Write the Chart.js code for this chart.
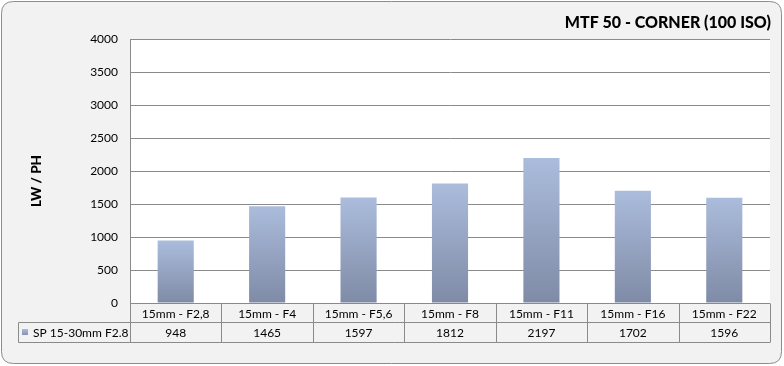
<!DOCTYPE html>
<html><head><meta charset="utf-8">
<script src="https://cdn.jsdelivr.net/npm/chart.js@4.4.0/dist/chart.umd.min.js"></script>
<style>html,body{margin:0;padding:0;background:#fff}#wrap{width:784px;height:366px;position:relative}</style>
</head><body><div id="wrap"><canvas id="c" width="784" height="366"></canvas></div>
<script>
const categories = ["15mm - F2,8","15mm - F4","15mm - F5,6","15mm - F8","15mm - F11","15mm - F16","15mm - F22"];
const seriesName = "SP 15-30mm F2.8";
const values = [948,1465,1597,1812,2197,1702,1596];
const yMax = 4000, yStep = 500;
const titleText = "MTF 50 - CORNER (100 ISO)";
const yTitle = "LW / PH";

const FONT = "Lato, 'Open Sans', sans-serif";
const LINE = "#8a8a8a";

const frame = {
  id: 'frame',
  beforeDraw(chart) {
    const ctx = chart.ctx;
    ctx.save();
    ctx.fillStyle = '#fff';
    ctx.fillRect(0,0,chart.width,chart.height);
    const x=1.5,y=1.5,w=780,h=362,r=12;
    ctx.beginPath();
    ctx.moveTo(x+r,y);ctx.lineTo(x+w-r,y);ctx.quadraticCurveTo(x+w,y,x+w,y+r);
    ctx.lineTo(x+w,y+h-r);ctx.quadraticCurveTo(x+w,y+h,x+w-r,y+h);
    ctx.lineTo(x+r,y+h);ctx.quadraticCurveTo(x,y+h,x,y+h-r);
    ctx.lineTo(x,y+r);ctx.quadraticCurveTo(x,y,x+r,y);ctx.closePath();
    ctx.fillStyle='#f2f2f2';ctx.fill();
    ctx.strokeStyle='#8c8c8c';ctx.lineWidth=1;ctx.stroke();
    const a = chart.chartArea;
    ctx.fillStyle='#fff';
    ctx.fillRect(a.left,a.top,a.right-a.left,a.bottom-a.top);
    ctx.restore();
  },
  afterDraw(chart) {
    const ctx = chart.ctx, a = chart.chartArea, xs = chart.scales.x;
    ctx.save();
    // title
    ctx.fillStyle='#000';
    ctx.font = "900 16px " + FONT;
    ctx.textAlign='right';ctx.textBaseline='middle';
    ctx.fillText(titleText, 771, 23);
    // y title
    ctx.save();
    ctx.translate(37, 181);
    ctx.rotate(-Math.PI/2);
    ctx.textAlign='center';ctx.textBaseline='middle';
    ctx.font = "900 13.5px " + FONT;
    ctx.fillText(yTitle,0,0);
    ctx.restore();
    // table
    const n = categories.length;
    const cw = (a.right-a.left)/n;
    const r0 = Math.round(a.bottom)+0.5, r1 = r0+19, r2 = r1+20;
    const left = 18.5;
    ctx.strokeStyle=LINE;ctx.lineWidth=1;
    ctx.beginPath();
    ctx.moveTo(a.left,r0);ctx.lineTo(a.right,r0);
    ctx.moveTo(left,r1);ctx.lineTo(a.right,r1);
    ctx.moveTo(left,r2);ctx.lineTo(a.right,r2);
    ctx.moveTo(left,r1);ctx.lineTo(left,r2);
    for(let i=0;i<=n;i++){
      const xx = Math.round(a.left+i*cw)+0.5;
      ctx.moveTo(xx,r0);ctx.lineTo(xx,r2);
    }
    ctx.stroke();
    ctx.fillStyle='#000';
    ctx.font = "12px " + FONT;
    ctx.textAlign='center';ctx.textBaseline='middle';
    for(let i=0;i<n;i++){
      const cx = xs.getPixelForValue(i);
      ctx.fillText(categories[i], cx, (r0+r1)/2+1);
      ctx.fillText(String(values[i]), cx, (r1+r2)/2+1);
    }
    // legend key
    const g = ctx.createLinearGradient(0,r1+7,0,r1+13);
    g.addColorStop(0,'#a9b9d8');g.addColorStop(1,'#8490aa');
    ctx.fillStyle=g;ctx.fillRect(22,r1+6.5,6,6);
    ctx.fillStyle='#000';ctx.textAlign='left';
    ctx.fillText(seriesName, 33, (r1+r2)/2+1);
    ctx.restore();
  }
};

new Chart(document.getElementById('c'), {
  type:'bar',
  data:{labels:categories,datasets:[{label:seriesName,data:values,
    backgroundColor(ctx){
      const ch = ctx.chart; const a = ch.chartArea;
      if(!a) return '#97a7c6';
      const v = ctx.raw; const ys = ch.scales.y;
      const top = ys.getPixelForValue(v), bot = ys.getPixelForValue(0);
      const g = ch.ctx.createLinearGradient(0,top,0,bot);
      g.addColorStop(0,'#abbcdc');g.addColorStop(1,'#7f8ba6');
      return g;
    },
    borderWidth:0,barPercentage:0.395,categoryPercentage:1}]},
  options:{
    responsive:false,animation:false,
    layout:{padding:{left:0,right:14,top:39,bottom:63}},
    plugins:{legend:{display:false},tooltip:{enabled:false},title:{display:false}},
    scales:{
      x:{display:false},
      y:{min:0,max:yMax,
        afterFit(s){s.width=130;},
        ticks:{stepSize:yStep,color:'#000',font:{family:FONT,size:12},padding:12,
          callback(v){return String(v);}},
        grid:{color:LINE,drawTicks:false,lineWidth:1},
        border:{color:LINE}
      }
    }
  },
  plugins:[frame]
});
</script></body></html>
